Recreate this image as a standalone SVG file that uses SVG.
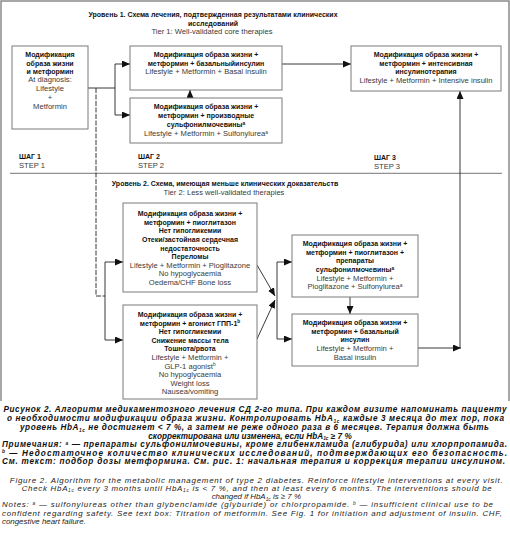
<svg xmlns="http://www.w3.org/2000/svg" width="510" height="535" viewBox="0 0 510 535">
<defs>
<style>
.bx{fill:#fff;stroke:#7a7a7a;stroke-width:1}
.b{font-family:"Liberation Sans",Arial,sans-serif;font-weight:bold;font-size:7px;fill:#111;text-anchor:middle}
.r{font-family:"Liberation Sans",Arial,sans-serif;font-size:7.6px;fill:#3a3a3a;text-anchor:middle}
.bl{font-family:"Liberation Sans",Arial,sans-serif;font-weight:bold;font-size:7px;fill:#111}
.rl{font-family:"Liberation Sans",Arial,sans-serif;font-size:7.6px;fill:#3a3a3a}
.c{fill:none;stroke:#222;stroke-width:0.9}
.ca{font-family:"Liberation Sans",Arial,sans-serif;font-weight:bold;font-style:italic;font-size:8.2px;fill:#111}
.ce{font-family:"Liberation Sans",Arial,sans-serif;font-style:italic;font-size:7.9px;fill:#222}
.sup{font-size:4.8px}
</style>
<marker id="ar" markerUnits="userSpaceOnUse" markerWidth="8" markerHeight="7" refX="8" refY="3.5" orient="auto">
<path d="M0,0 L8,3.5 L0,7 z" fill="#111"/>
</marker>
</defs>
<rect width="510" height="535" fill="#fff"/>
<path d="M1,401 V1 H509 V401" fill="none" stroke="#8a8a8a" stroke-width="1.5"/>

<g id="tier1-title">
<text class="b" x="213" y="17">Уровень 1. Схема лечения, подтвержденная результатами клинических</text>
<text class="b" x="213" y="26">исследований</text>
<text class="r" x="212" y="34">Tier 1: Well-validated core therapies</text>
</g>

<g id="steps">
<text class="bl" x="19" y="159">ШАГ 1</text>
<text class="rl" x="19" y="168">STEP 1</text>
<text class="bl" x="138" y="159">ШАГ 2</text>
<text class="rl" x="138" y="168">STEP 2</text>
<text class="bl" x="374" y="160">ШАГ 3</text>
<text class="rl" x="374" y="169">STEP 3</text>
<path d="M10,173.3 H502" stroke="#666" stroke-width="0.9"/>
</g>

<g id="tier2-title">
<text class="b" x="225" y="186">Уровень 2. Схема, имеющая меньше клинических доказательств</text>
<text class="r" x="224" y="195">Tier 2: Less well-validated therapies</text>
</g>

<g id="connectors">
<path class="c" d="M88,88 H115"/>
<path class="c" d="M115,88 V64 H130" marker-end="url(#ar)"/>
<path class="c" d="M115,88 V115 H130" marker-end="url(#ar)"/>
<path class="c" d="M190,98 V90" marker-end="url(#ar)"/>
<path class="c" d="M282,64 H351" marker-end="url(#ar)"/>
<path class="c" d="M96,88 V296 H105" stroke-dasharray="5 1.5"/>
<path class="c" d="M105,262 V340"/>
<path class="c" d="M105,262 H123" marker-end="url(#ar)"/>
<path class="c" d="M105,340 H123" marker-end="url(#ar)"/>
<path class="c" d="M257,265 L275,296" marker-end="url(#ar)"/>
<path class="c" d="M257,339 L275,300" marker-end="url(#ar)"/>
<path class="c" d="M277,262 V339"/>
<path class="c" d="M277,262 H292" marker-end="url(#ar)"/>
<path class="c" d="M277,339 H292" marker-end="url(#ar)"/>
<path class="c" d="M350,297 V314" marker-end="url(#ar)"/>
<path class="c" d="M418,348 H461" marker-end="url(#ar)"/>
<path class="c" d="M460,348 V91" marker-end="url(#ar)"/>
</g>

<g id="box-a">
<rect class="bx" x="12" y="46" width="76" height="83"/>
<text class="b" x="50" y="57">Модификация</text>
<text class="b" x="50" y="65.5">образа жизни</text>
<text class="b" x="50" y="74">и метформин</text>
<text class="r" x="50" y="82">At diagnosis:</text>
<text class="r" x="50" y="91">Lifestyle</text>
<text class="r" x="50" y="100">+</text>
<text class="r" x="50" y="109">Metformin</text>
</g>

<g id="box-b">
<rect class="bx" x="130" y="46" width="152" height="44"/>
<text class="b" x="206" y="57">Модификация образа жизни +</text>
<text class="b" x="206" y="65.5">метформин + базальныйинсулин</text>
<text class="r" x="206" y="74">Lifestyle + Metformin + Basal insulin</text>
</g>

<g id="box-c">
<rect class="bx" x="130" y="98" width="152" height="45"/>
<text class="b" x="206" y="109">Модификация образа жизни +</text>
<text class="b" x="206" y="118">метформин + производные</text>
<text class="b" x="206" y="127">сульфонилмочевины<tspan class="sup" dy="-2.5">a</tspan></text>
<text class="r" x="206" y="136">Lifestyle + Metformin + Sulfonylurea<tspan class="sup" dy="-2.5">a</tspan></text>
</g>

<g id="box-d">
<rect class="bx" x="351" y="46" width="150" height="45"/>
<text class="b" x="426" y="57">Модификация образа жизни +</text>
<text class="b" x="426" y="65.5">метформин + интенсивная</text>
<text class="b" x="426" y="74">инсулинотерапия</text>
<text class="r" x="426" y="83">Lifestyle + Metformin + Intensive insulin</text>
</g>

<g id="box-e">
<rect class="bx" x="123" y="203" width="134" height="89"/>
<text class="b" x="190" y="216">Модификация образа жизни +</text>
<text class="b" x="190" y="224.7">метформин + пиоглитазон</text>
<text class="b" x="190" y="233.3">Нет гипогликемии</text>
<text class="b" x="190" y="242">Отеки/застойная сердечная</text>
<text class="b" x="190" y="250.5">недостаточность</text>
<text class="b" x="190" y="259">Переломы</text>
<text class="r" x="190" y="267.5">Lifestyle + Metformin + Pioglitazone</text>
<text class="r" x="190" y="276">No hypoglycaemia</text>
<text class="r" x="190" y="284.5">Oedema/CHF Bone loss</text>
</g>

<g id="box-f">
<rect class="bx" x="123" y="305" width="134" height="94"/>
<text class="b" x="190" y="317">Модификация образа жизни +</text>
<text class="b" x="190" y="325.5">метформин + агонист ГПП-1<tspan class="sup" dy="-2.5">b</tspan></text>
<text class="b" x="190" y="334">Нет гипогликемии</text>
<text class="b" x="190" y="342.5">Снижение массы тела</text>
<text class="b" x="190" y="351">Тошнота/рвота</text>
<text class="r" x="190" y="360">Lifestyle + Metformin +</text>
<text class="r" x="190" y="368.5">GLP-1 agonist<tspan class="sup" dy="-2.5">b</tspan></text>
<text class="r" x="190" y="377">No hypoglycaemia</text>
<text class="r" x="190" y="385.5">Weight loss</text>
<text class="r" x="190" y="394">Nausea/vomiting</text>
</g>

<g id="box-g1">
<rect class="bx" x="292" y="235" width="126" height="62"/>
<text class="b" x="355" y="246">Модификация образа жизни +</text>
<text class="b" x="355" y="254.7">метформин + пиоглитазон +</text>
<text class="b" x="355" y="263.3">препараты</text>
<text class="b" x="355" y="272">сульфонилмочевины<tspan class="sup" dy="-2.5">a</tspan></text>
<text class="r" x="355" y="280.5">Lifestyle + Metformin +</text>
<text class="r" x="355" y="289">Pioglitazone + Sulfonylurea<tspan class="sup" dy="-2.5">a</tspan></text>
</g>

<g id="box-g2">
<rect class="bx" x="292" y="314" width="126" height="52"/>
<text class="b" x="355" y="325">Модификация образа жизни +</text>
<text class="b" x="355" y="333.7">метформин + базальный</text>
<text class="b" x="355" y="342.3">инсулин</text>
<text class="r" x="355" y="351">Lifestyle + Metformin +</text>
<text class="r" x="355" y="359.5">Basal insulin</text>
</g>

<g id="caption">
<text class="ca" x="255" y="412" text-anchor="middle" textLength="503" lengthAdjust="spacing">Рисунок 2. Алгоритм медикаментозного лечения СД 2-го типа. При каждом визите напоминать пациенту</text>
<text class="ca" x="255.5" y="421" text-anchor="middle" textLength="497" lengthAdjust="spacing">о необходимости модификации образа жизни. Контролировать HbA<tspan class="sup" dy="1.5">1c</tspan><tspan dy="-1.5"> каждые 3 месяца до тех пор, пока</tspan></text>
<text class="ca" x="254.5" y="430" text-anchor="middle" textLength="469" lengthAdjust="spacing">уровень HbA<tspan class="sup" dy="1.5">1c</tspan><tspan dy="-1.5"> не достигнет &lt; 7 %, а затем не реже одного раза в 6 месяцев. Терапия должна быть</tspan></text>
<text class="ca" x="250" y="438.7" text-anchor="middle">скорректирована или изменена, если HbA<tspan class="sup" dy="1.5">1c</tspan><tspan dy="-1.5"> ≥ 7 %</tspan></text>
<text class="ca" x="2" y="447.3" textLength="505" lengthAdjust="spacing">Примечания: <tspan class="sup" dy="-2.5">a</tspan><tspan dy="2.5"> — препараты сульфонилмочевины, кроме глибенкламида (глибурида) или хлорпропамида.</tspan></text>
<text class="ca" x="2" y="455.8" textLength="505" lengthAdjust="spacing"><tspan class="sup" dy="-2.5">b</tspan><tspan dy="2.5"> — Недостаточное количество клинических исследований, подтверждающих его безопасность.</tspan></text>
<text class="ca" x="2" y="464.3" textLength="503" lengthAdjust="spacing">См. текст: подбор дозы метформина. См. рис. 1: начальная терапия и коррекция терапии инсулином.</text>
<text class="ce" x="256.3" y="482.5" text-anchor="middle" textLength="493" lengthAdjust="spacing">Figure 2. Algorithm for the metabolic management of type 2 diabetes. Reinforce lifestyle interventions at every visit.</text>
<text class="ce" x="256.7" y="490.8" text-anchor="middle" textLength="470" lengthAdjust="spacing">Check HbA<tspan class="sup" dy="1.5">1c</tspan><tspan dy="-1.5"> every 3 months until HbA</tspan><tspan class="sup" dy="1.5">1c</tspan><tspan dy="-1.5"> is &lt; 7 %, and then at least every 6 months. The interventions should be</tspan></text>
<text class="ce" x="256.3" y="499.2" text-anchor="middle">changed if HbA<tspan class="sup" dy="1.5">1c</tspan><tspan dy="-1.5"> is ≥ 7 %</tspan></text>
<text class="ce" x="2" y="507.4" textLength="491" lengthAdjust="spacing">Notes: <tspan class="sup" dy="-2.5">a</tspan><tspan dy="2.5"> — sulfonylureas other than glybenclamide (glyburide) or chlorpropamide. </tspan><tspan class="sup" dy="-2.5">b</tspan><tspan dy="2.5"> — insufficient clinical use to be</tspan></text>
<text class="ce" x="2" y="515.6" textLength="500" lengthAdjust="spacing">confident regarding safety. See text box: Titration of metformin. See Fig. 1 for initiation and adjustment of insulin. CHF,</text>
<text class="ce" x="2" y="523.8">congestive heart failure.</text>
</g>
</svg>
